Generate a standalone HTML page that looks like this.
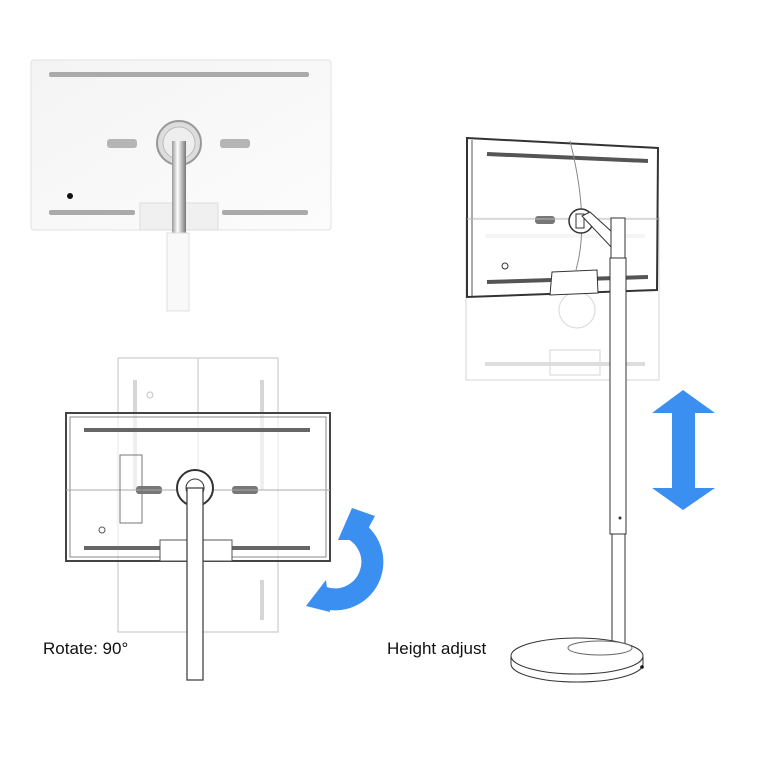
<!DOCTYPE html>
<html><head><meta charset="utf-8"><style>
html,body{margin:0;padding:0;background:#fff}
svg{display:block}
text{font-family:"Liberation Sans",sans-serif}
</style></head><body>
<svg width="768" height="768" viewBox="0 0 768 768" xmlns="http://www.w3.org/2000/svg">
<defs>
<linearGradient id="g1" x1="0" y1="0" x2="1" y2="1"><stop offset="0" stop-color="#f4f4f4"/><stop offset="1" stop-color="#fcfcfc"/></linearGradient>
<linearGradient id="chrome" x1="0" x2="1"><stop offset="0" stop-color="#999"/><stop offset="0.4" stop-color="#fff"/><stop offset="1" stop-color="#777"/></linearGradient>
</defs>
<!-- Top-left photo monitor -->
<rect x="31" y="60" width="300" height="170" rx="3" fill="url(#g1)" stroke="#e2e2e2"/>
<rect x="49" y="72" width="260" height="5" rx="2" fill="#aaa"/>
<rect x="107" y="139" width="30" height="9" rx="3" fill="#b5b5b5"/>
<rect x="220" y="139" width="30" height="9" rx="3" fill="#b5b5b5"/>
<rect x="49" y="210" width="86" height="5" rx="2" fill="#aaa"/>
<rect x="222" y="210" width="86" height="5" rx="2" fill="#aaa"/>
<circle cx="70" cy="196" r="3" fill="#111"/>
<rect x="140" y="203" width="78" height="27" fill="#f0f0f0" stroke="#ddd"/>
<circle cx="179" cy="143" r="22" fill="#ddd" stroke="#999" stroke-width="2"/>
<circle cx="179" cy="143" r="16" fill="#eee" stroke="#bbb"/>
<rect x="172" y="141" width="14" height="93" fill="url(#chrome)"/>
<rect x="167" y="233" width="22" height="78" fill="#f9f9f9" stroke="#e0e0e0"/>
<!-- Bottom-left ghost vertical monitor -->
<g stroke="#ccc" fill="none" stroke-width="1.2">
<rect x="118" y="358" width="160" height="274"/>
<line x1="198" y1="358" x2="198" y2="632"/>
<circle cx="150" cy="395" r="3"/>
</g>
<g stroke="#bbb" stroke-width="4" opacity="0.6"><line x1="135" y1="380" x2="135" y2="490"/><line x1="262" y1="380" x2="262" y2="490"/><line x1="262" y1="580" x2="262" y2="620"/></g>
<!-- Bottom-left main monitor -->
<rect x="66" y="413" width="264" height="148" fill="rgba(255,255,255,0.6)" stroke="#444" stroke-width="2"/>
<rect x="70" y="417" width="256" height="140" fill="none" stroke="#888"/>
<rect x="84" y="428" width="226" height="4" fill="#666"/>
<rect x="84" y="546" width="86" height="4" fill="#666"/>
<rect x="224" y="546" width="86" height="4" fill="#666"/>
<rect x="136" y="486" width="26" height="8" rx="3" fill="#777"/>
<rect x="232" y="486" width="26" height="8" rx="3" fill="#777"/>
<line x1="66" y1="490" x2="330" y2="490" stroke="#aaa"/>
<rect x="120" y="455" width="22" height="68" fill="none" stroke="#777"/>
<circle cx="102" cy="530" r="3" fill="none" stroke="#555"/>
<rect x="160" y="540" width="72" height="21" fill="#fff" stroke="#555"/>
<circle cx="195" cy="488" r="18" fill="#fff" stroke="#333" stroke-width="2"/>
<circle cx="195" cy="488" r="9" fill="none" stroke="#333"/>
<rect x="187" y="488" width="16" height="192" fill="#fff" stroke="#444" stroke-width="1.3"/>
<!-- Blue rotate arrow -->
<path d="M348 527 A36 36 0 1 1 322 597" fill="none" stroke="#3b8ff0" stroke-width="22"/>
<polygon points="352,508 375,516 362,540 338,540" fill="#3b8ff0"/>
<polygon points="306,606 326,580 330,612" fill="#3b8ff0"/>
<text x="43" y="654" font-size="17" fill="#111">Rotate: 90°</text>
<!-- Right ghost lower monitor -->
<g stroke="#ddd" fill="none" stroke-width="1.2">
<rect x="466" y="218" width="193" height="162"/>
<circle cx="577" cy="310" r="18"/>
<rect x="550" y="350" width="50" height="25"/>
</g>
<rect x="485" y="234" width="160" height="4" fill="#ddd"/>
<rect x="485" y="362" width="160" height="4" fill="#ddd"/>
<!-- Right main monitor -->
<polygon points="467,138 658,148 657,290 467,297" fill="rgba(255,255,255,0.7)" stroke="#333" stroke-width="2"/>
<line x1="472" y1="140" x2="472" y2="296" stroke="#555"/>
<line x1="487" y1="154" x2="648" y2="161" stroke="#555" stroke-width="4"/>
<line x1="487" y1="282" x2="648" y2="277" stroke="#555" stroke-width="4"/>
<rect x="535" y="216" width="20" height="8" rx="3" fill="#777"/>
<circle cx="505" cy="266" r="3" fill="none" stroke="#333"/>
<line x1="467" y1="219" x2="658" y2="219" stroke="#bbb"/>
<path d="M570 141 Q590 220 576 270" fill="none" stroke="#888"/>
<circle cx="581" cy="221" r="12" fill="#fff" stroke="#333" stroke-width="1.5"/>
<rect x="576" y="214" width="8" height="14" fill="none" stroke="#333"/>
<polygon points="552,272 597,270 598,293 550,295" fill="#fff" stroke="#333"/>
<path d="M582 216 L590 212 L612 232 L612 248 Z" fill="#fff" stroke="#333"/>
<!-- Pole -->
<rect x="611" y="218" width="14" height="40" fill="#fff" stroke="#333"/>
<rect x="610" y="258" width="16" height="276" fill="#fff" stroke="#333"/>
<rect x="612" y="534" width="13" height="116" fill="#fff" stroke="#333"/>
<circle cx="620" cy="518" r="1.5" fill="#333"/>
<!-- Base -->
<path d="M511 656 L511 664 A66 18 0 0 0 643 664 L643 656" fill="#fff" stroke="#333"/>
<ellipse cx="577" cy="656" rx="66" ry="18" fill="#fff" stroke="#333"/>
<ellipse cx="600" cy="648" rx="32" ry="7" fill="none" stroke="#666"/>
<circle cx="642" cy="667" r="1.8" fill="#111"/>
<!-- Blue vertical arrow -->
<polygon points="683,390 715,413 695,413 695,488 715,488 683,510 652,488 672,488 672,413 652,413" fill="#3b8ff0"/>
<text x="387" y="654" font-size="17" fill="#111">Height adjust</text>
</svg>
</body></html>
